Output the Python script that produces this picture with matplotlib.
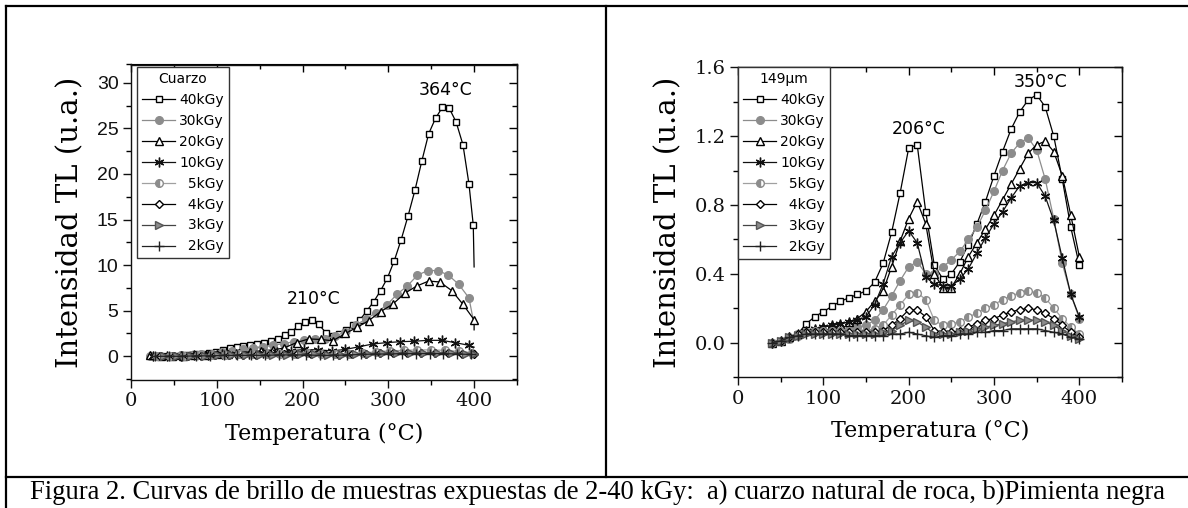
import matplotlib.pyplot as plt
from matplotlib.lines import Line2D

# dose labels (same for both panels)
doses = ["40kGy", "30kGy", "20kGy", "10kGy", "5kGy", "4kGy", "3kGy", "2kGy"]

# ---- a) cuarzo natural de roca: each curve has its own temperature grid
q_t40 = [27, 35, 43, 51, 59, 67, 75, 83, 91, 99, 107, 115, 123, 131, 139, 147, 155,
         163, 171, 179, 187, 195, 203, 211, 219, 227, 235, 243, 251, 259, 267, 275,
         283, 291, 299, 307, 315, 323, 331, 339, 347, 355, 363, 371, 379, 387, 394,
         399, 400]
q_i40 = [0.0, 0.0, 0.05, 0.05, 0.1, 0.15, 0.2, 0.25, 0.35, 0.45, 0.7, 0.9, 1.05, 1.15,
         1.25, 1.35, 1.5, 1.7, 1.95, 2.3, 2.7, 3.3, 3.75, 3.95, 3.5, 2.6, 2.2, 2.4, 2.9,
         3.4, 4.0, 5.0, 6.0, 7.2, 8.6, 10.5, 12.8, 15.4, 18.2, 21.4, 24.4, 26.1, 27.3,
         27.2, 25.7, 23.2, 18.9, 14.4, 9.8]

q_t30 = [22, 34, 46, 58, 70, 82, 94, 106, 118, 130, 142, 154, 166, 178, 190, 202, 214,
         226, 238, 250, 262, 274, 286, 298, 310, 322, 334, 346, 358, 370, 382, 394, 400]
q_i30 = [0.0, 0.0, 0.05, 0.1, 0.15, 0.2, 0.3, 0.45, 0.6, 0.75, 0.9, 1.05, 1.2, 1.4,
         1.6, 1.75, 1.85, 1.95, 2.2, 2.7, 3.4, 4.1, 4.8, 5.6, 6.8, 7.7, 8.9, 9.4, 9.4,
         8.9, 7.9, 6.4, 3.5]

q_t20 = [22, 35, 48, 61, 74, 87, 100, 113, 126, 139, 152, 165, 178, 193, 207, 221, 235,
         250, 264, 277, 291, 305, 319, 333, 347, 360, 374, 387, 400, 400]
q_i20 = [0.1, 0.05, 0.05, 0.05, 0.1, 0.15, 0.2, 0.3, 0.4, 0.5, 0.6, 0.7, 0.9, 1.5,
         1.9, 1.85, 1.7, 2.5, 3.2, 3.9, 4.9, 5.7, 6.9, 7.7, 8.25, 8.15, 7.2, 5.7, 4.0, 2.9]

q_t10 = [26, 42, 58, 74, 90, 106, 122, 138, 154, 170, 186, 202, 218, 234, 250, 266,
         282, 298, 314, 330, 346, 362, 378, 394, 400]
q_i10 = [0.0, 0.0, 0.05, 0.1, 0.15, 0.2, 0.25, 0.3, 0.35, 0.45, 0.6, 0.75, 0.7, 0.6,
         0.75, 1.05, 1.35, 1.5, 1.6, 1.65, 1.75, 1.75, 1.5, 1.2, 1.0]

q_t5 = [30, 46, 62, 78, 94, 110, 126, 142, 158, 174, 190, 206, 222, 238, 254, 270,
        286, 302, 318, 334, 350, 366, 382, 398]
q_i5 = [0.0, 0.0, 0.05, 0.1, 0.1, 0.15, 0.2, 0.25, 0.25, 0.3, 0.3, 0.35, 0.3, 0.2,
        0.25, 0.35, 0.5, 0.6, 0.65, 0.7, 0.7, 0.65, 0.55, 0.4]

q_t4 = [34, 50, 66, 82, 98, 114, 130, 146, 162, 178, 194, 210, 226, 242, 258, 274,
        290, 306, 322, 338, 354, 370, 386, 400]
q_i4 = [0.0, 0.0, 0.0, 0.05, 0.1, 0.1, 0.15, 0.15, 0.2, 0.2, 0.25, 0.25, 0.2, 0.15,
        0.2, 0.25, 0.35, 0.4, 0.4, 0.4, 0.4, 0.35, 0.3, 0.25]

q_t3 = [38, 54, 70, 86, 102, 118, 134, 150, 166, 182, 198, 214, 230, 246, 262, 278,
        294, 310, 326, 342, 358, 374, 390, 400]
q_i3 = [0.0, 0.0, 0.05, 0.05, 0.1, 0.1, 0.1, 0.15, 0.15, 0.15, 0.2, 0.2, 0.15, 0.15,
        0.2, 0.3, 0.35, 0.4, 0.4, 0.4, 0.4, 0.35, 0.3, 0.3]

q_t2 = [28, 44, 60, 76, 92, 108, 124, 140, 156, 172, 188, 204, 220, 236, 252, 268,
        284, 300, 316, 332, 348, 364, 380, 396]
q_i2 = [0.0, 0.0, 0.0, 0.05, 0.05, 0.1, 0.1, 0.1, 0.1, 0.15, 0.15, 0.15, 0.1, 0.1,
        0.15, 0.2, 0.25, 0.25, 0.3, 0.3, 0.3, 0.3, 0.25, 0.2]

# ---- b) pimienta negra 149um: common temperature grid
p_t = [40, 50, 60, 70, 80, 90, 100, 110, 120, 130, 140, 150, 160, 170, 180, 190, 200,
       210, 220, 230, 240, 250, 260, 270, 280, 290, 300, 310, 320, 330, 340, 350, 360,
       370, 380, 390, 400]
p_i40 = [0.00, 0.01, 0.02, 0.05, 0.11, 0.15, 0.18, 0.21, 0.24, 0.26, 0.28, 0.30, 0.35,
         0.46, 0.64, 0.87, 1.13, 1.15, 0.76, 0.45, 0.37, 0.40, 0.47, 0.57, 0.69, 0.82,
         0.97, 1.11, 1.24, 1.34, 1.41, 1.44, 1.37, 1.20, 0.95, 0.67, 0.45]
p_i30 = [0.00, 0.01, 0.02, 0.04, 0.06, 0.07, 0.07, 0.07, 0.07, 0.08, 0.09, 0.10, 0.13,
         0.19, 0.27, 0.36, 0.44, 0.47, 0.40, 0.40, 0.44, 0.48, 0.53, 0.60, 0.67, 0.77,
         0.88, 1.00, 1.10, 1.16, 1.19, 1.12, 0.95, 0.72, 0.46, 0.28, 0.14]
p_i20 = [0.00, 0.01, 0.03, 0.05, 0.07, 0.08, 0.09, 0.10, 0.11, 0.12, 0.14, 0.18, 0.24,
         0.30, 0.44, 0.59, 0.72, 0.82, 0.69, 0.40, 0.32, 0.32, 0.40, 0.50, 0.58, 0.66,
         0.74, 0.83, 0.92, 1.01, 1.10, 1.15, 1.17, 1.11, 0.97, 0.74, 0.50]
p_i10 = [0.00, 0.01, 0.03, 0.05, 0.07, 0.08, 0.09, 0.10, 0.11, 0.12, 0.13, 0.15, 0.22,
         0.34, 0.50, 0.58, 0.65, 0.58, 0.38, 0.34, 0.33, 0.33, 0.37, 0.43, 0.52, 0.61,
         0.69, 0.76, 0.84, 0.91, 0.93, 0.93, 0.85, 0.71, 0.49, 0.28, 0.15]
p_i5 = [0.00, 0.01, 0.03, 0.05, 0.06, 0.07, 0.07, 0.07, 0.07, 0.07, 0.07, 0.07, 0.08,
        0.10, 0.16, 0.22, 0.28, 0.29, 0.25, 0.13, 0.10, 0.11, 0.12, 0.15, 0.17, 0.20,
        0.22, 0.25, 0.27, 0.29, 0.30, 0.29, 0.26, 0.20, 0.14, 0.09, 0.05]
p_i4 = [0.00, 0.01, 0.03, 0.05, 0.06, 0.06, 0.06, 0.06, 0.06, 0.06, 0.06, 0.06, 0.06,
        0.07, 0.10, 0.14, 0.19, 0.19, 0.15, 0.07, 0.06, 0.06, 0.07, 0.09, 0.11, 0.13,
        0.14, 0.16, 0.18, 0.19, 0.20, 0.19, 0.17, 0.14, 0.10, 0.06, 0.03]
p_i3 = [0.00, 0.01, 0.03, 0.04, 0.05, 0.05, 0.05, 0.05, 0.05, 0.05, 0.05, 0.05, 0.05,
        0.06, 0.07, 0.10, 0.13, 0.12, 0.09, 0.05, 0.05, 0.05, 0.06, 0.07, 0.08, 0.09,
        0.10, 0.11, 0.12, 0.13, 0.13, 0.13, 0.12, 0.10, 0.07, 0.04, 0.02]
p_i2 = [0.00, 0.01, 0.03, 0.04, 0.05, 0.05, 0.05, 0.05, 0.05, 0.04, 0.04, 0.04, 0.04,
        0.04, 0.05, 0.05, 0.06, 0.05, 0.04, 0.03, 0.04, 0.04, 0.05, 0.05, 0.06, 0.06,
        0.07, 0.07, 0.08, 0.08, 0.08, 0.08, 0.07, 0.06, 0.05, 0.03, 0.02]

q_temps = [q_t40, q_t30, q_t20, q_t10, q_t5, q_t4, q_t3, q_t2]
q_vals = [q_i40, q_i30, q_i20, q_i10, q_i5, q_i4, q_i3, q_i2]
q_tail = [True, True, True, True, False, False, False, False]  # last point line only
p_vals = [p_i40, p_i30, p_i20, p_i10, p_i5, p_i4, p_i3, p_i2]

caption = ("Figura 2. Curvas de brillo de muestras expuestas de 2-40 kGy:  "
           "a) cuarzo natural de roca, b)Pimienta negra")

# marker / line look of each dose
styles = [
    dict(color='black', marker='s', mfc='white', mec='black', ms=5),
    dict(color='#8c8c8c', marker='o', mfc='#8c8c8c', mec='#8c8c8c', ms=5.5),
    dict(color='black', marker='^', mfc='white', mec='black', ms=6),
    dict(color='#111111', marker=(6, 2, 0), mec='#111111', ms=7),
    dict(color='#a0a0a0', marker='o', fillstyle='left', mfc='#8c8c8c',
         markerfacecoloralt='white', mec='#8c8c8c', ms=5.5),
    dict(color='black', marker='D', mfc='white', mec='black', ms=4.5),
    dict(color='#444444', marker='>', mfc='#8c8c8c', mec='#555555', ms=6),
    dict(color='#222222', marker='+', mec='#222222', ms=7),
]

W, H = 1188, 508
fig = plt.figure(figsize=(W / 100, H / 100), dpi=100)


def fx(px):
    return px / W


def fy(py):
    return 1 - py / H


axq = fig.add_axes([fx(131), fy(380), fx(517) - fx(131), fy(64.5) - fy(380)])
axp = fig.add_axes([fx(738), fy(377), fx(1122) - fx(738), fy(67.3) - fy(377)])

serif = 'DejaVu Serif'
sans = 'DejaVu Sans'

# curves
for t, v, tail, st, lab in zip(q_temps, q_vals, q_tail, styles, doses):
    me = slice(0, len(t) - 1) if tail else None
    axq.plot(t, v, lw=0.9, markevery=me, label=lab.rjust(5, '\u2007'), **st)

for v, st, lab in zip(p_vals, styles, doses):
    axp.plot(p_t, v, lw=0.9, label=lab.rjust(5, '\u2007'), **st)


def style_axes(ax, ylim, ymaj, ymin, yfont):
    ax.set_xlim(0, 450)
    ax.set_ylim(*ylim)
    ax.set_xticks([0, 100, 200, 300, 400])
    ax.set_xticks([50, 150, 250, 350, 450], minor=True)
    ax.set_yticks(ymaj)
    ax.set_yticks(ymin, minor=True)
    ax.tick_params(which='major', direction='out', length=6, width=1, pad=3,
                   labelsize=14, colors='#111111')
    ax.tick_params(which='minor', direction='out', length=3.5, width=1)
    for lb in ax.get_xticklabels():
        lb.set_family(serif)
    for lb in ax.get_yticklabels():
        lb.set_family(yfont)
    for sp in ax.spines.values():
        sp.set_linewidth(1)
        sp.set_color('#111111')
    # inward ticks on top and right
    top = ax.secondary_xaxis('top')
    top.set_xticks([0, 100, 200, 300, 400], labels=[])
    top.set_xticks([50, 150, 250, 350, 450], minor=True)
    top.tick_params(which='major', direction='in', length=6, width=1)
    top.tick_params(which='minor', direction='in', length=3.5, width=1)
    right = ax.secondary_yaxis('right')
    right.set_yticks(ymaj, labels=[])
    right.set_yticks(ymin, minor=True)
    right.tick_params(which='major', direction='in', length=6, width=1)
    right.tick_params(which='minor', direction='in', length=3.5, width=1)
    ax.set_xlabel('Temperatura (°C)', family=serif, fontsize=16, labelpad=9)
    ax.set_ylabel('Intensidad TL (u.a.)', family=serif, fontsize=21, labelpad=9)


style_axes(axq, (-2.6, 32), [0, 5, 10, 15, 20, 25, 30],
           [-2.5, 2.5, 7.5, 12.5, 17.5, 22.5, 27.5, 32], 'Liberation Sans')
axq.set_yticklabels(['0', '5', '10', '15', '20', '25', '30'], family='Liberation Sans')
style_axes(axp, (-0.2, 1.6), [0.0, 0.4, 0.8, 1.2, 1.6],
           [-0.2, 0.2, 0.6, 1.0, 1.4], serif)
axp.set_yticklabels(['0.0', '0.4', '0.8', '1.2', '1.6'], family=serif)

# peak labels
axq.text(367, 29.25, '364°C', ha='center', va='center', family=sans, fontsize=12.5)
axq.text(213, 6.3, '210°C', ha='center', va='center', family=sans, fontsize=12.5)
axp.text(354, 1.513, '350°C', ha='center', va='center', family=sans, fontsize=12.5)
axp.text(212, 1.243, '206°C', ha='center', va='center', family=sans, fontsize=12.5)

# legends
leg_kw = dict(fontsize=10, title_fontsize=10, handlelength=2.4, handletextpad=0.3,
              labelspacing=0.5, borderpad=0.35, fancybox=False, framealpha=1,
              edgecolor='#333333', loc='upper left')
lq = axq.legend(title='Cuarzo', bbox_to_anchor=(0.0155, 0.992), borderaxespad=0,
                **leg_kw)
lp = axp.legend(title='149μm', bbox_to_anchor=(0.0, 1.0), borderaxespad=0, **leg_kw)
for lg in (lq, lp):
    lg.get_frame().set_linewidth(1)
    for tx in lg.get_texts():
        tx.set_family(sans)

# table frame around the two panels and the caption row
frame = dict(color='black', lw=1.6, transform=fig.transFigure)
fig.add_artist(Line2D([fx(5.7), fx(W)], [fy(5.7), fy(5.7)], **frame))
fig.add_artist(Line2D([fx(5.7), fx(5.7)], [fy(5.7), fy(H)], **frame))
fig.add_artist(Line2D([fx(605.7), fx(605.7)], [fy(5.7), fy(477)], **frame))
fig.add_artist(Line2D([fx(5.7), fx(W)], [fy(477), fy(477)], **frame))

fig.text(fx(597), fy(492), caption, ha='center', va='center',
         family='Liberation Serif', fontsize=19.2)

fig.savefig('out.png', dpi=100)
